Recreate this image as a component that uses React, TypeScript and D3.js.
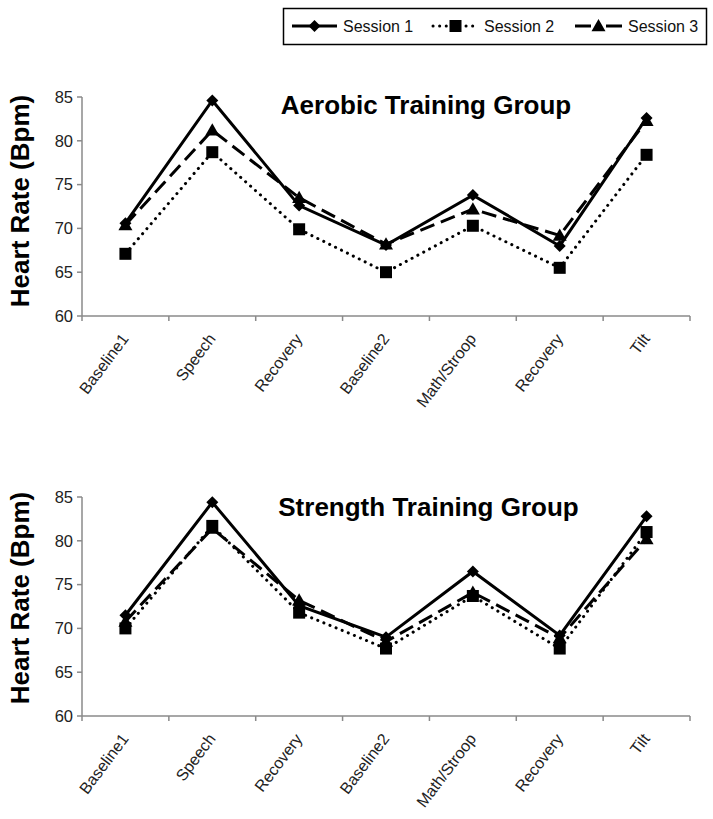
import React from "react";
import * as d3 from "d3";

const categories = ["Baseline1", "Speech", "Recovery", "Baseline2", "Math/Stroop", "Recovery", "Tilt"];
const yTicks = [60, 65, 70, 75, 80, 85];
const seriesNames = ["Session 1", "Session 2", "Session 3"];

const aerobicS1 = [70.6, 84.6, 72.6, 68.1, 73.8, 68.0, 82.6];
const aerobicS2 = [67.1, 78.7, 69.9, 65.0, 70.3, 65.5, 78.4];
const aerobicS3 = [70.4, 81.2, 73.5, 68.2, 72.2, 69.2, 82.3];

const strengthS1 = [71.5, 84.4, 72.6, 69.0, 76.5, 69.2, 82.8];
const strengthS2 = [70.0, 81.7, 71.8, 67.7, 73.7, 67.7, 81.0];
const strengthS3 = [70.8, 81.4, 73.2, 68.5, 74.1, 68.9, 80.2];

const panels = [
  { title: "Aerobic Training Group", series: [aerobicS1, aerobicS2, aerobicS3], top: 97, titleX: 426, titleY: 113.5, labelY: 201 },
  { title: "Strength Training Group", series: [strengthS1, strengthS2, strengthS3], top: 497, titleX: 428.5, titleY: 516, labelY: 598 },
];

const FONT = "'Liberation Sans', Arial, sans-serif";
const styles = [
  { dash: null as string | null, cap: "butt" },
  { dash: "0.1 6.5", cap: "round" },
  { dash: "15 7", cap: "butt" },
];

function Marker({ kind, x, y }: { kind: number; x: number; y: number }) {
  if (kind === 0) {
    const s = 6;
    return <path d={`M${x},${y - s}L${x + s},${y}L${x},${y + s}L${x - s},${y}Z`} fill="#000" />;
  }
  if (kind === 1) {
    const s = 6;
    return <rect x={x - s} y={y - s} width={2 * s} height={2 * s} fill="#000" />;
  }
  const s = 7;
  return <path d={`M${x},${y - s}L${x + s},${y + s * 0.75}L${x - s},${y + s * 0.75}Z`} fill="#000" />;
}

function Panel({ p }: { p: (typeof panels)[number] }) {
  const x0 = 82;
  const x1 = 690;
  const height = 219;
  const y = d3.scaleLinear().domain([60, 85]).range([p.top + height, p.top]);
  const x = d3.scaleBand<number>().domain(d3.range(categories.length)).range([x0, x1]);
  const cx = (i: number) => (x(i) as number) + x.bandwidth() / 2;
  const line = d3
    .line<number>()
    .x((_, i) => cx(i))
    .y((d) => y(d));
  const base = y(60);
  const axisColor = "#8a8a8a";
  return (
    <g>
      <text x={p.titleX} y={p.titleY} textAnchor="middle" fontFamily={FONT} fontWeight="bold" fontSize={26}>
        {p.title}
      </text>
      <text
        transform={`translate(29,${p.labelY}) rotate(-90)`}
        textAnchor="middle"
        fontFamily={FONT}
        fontWeight="bold"
        fontSize={26}
      >
        Heart Rate (Bpm)
      </text>
      <line x1={x0} x2={x0} y1={y(85)} y2={base} stroke={axisColor} strokeWidth={1.5} />
      <line x1={x0} x2={x1} y1={base} y2={base} stroke={axisColor} strokeWidth={1.5} />
      {yTicks.map((t) => (
        <g key={t}>
          <line x1={x0 - 5} x2={x0} y1={y(t)} y2={y(t)} stroke={axisColor} strokeWidth={1.5} />
          <text x={x0 - 9} y={y(t)} dy="0.35em" textAnchor="end" fontFamily={FONT} fontSize={16.5} fill="#222">
            {t}
          </text>
        </g>
      ))}
      {d3.range(categories.length + 1).map((i) => {
        const xx = i === categories.length ? x1 : (x(i) as number);
        return <line key={i} x1={xx} x2={xx} y1={base} y2={base + 5} stroke={axisColor} strokeWidth={1.5} />;
      })}
      {categories.map((c, i) => (
        <text
          key={i}
          transform={`translate(${cx(i) + 4},${base + 23}) rotate(-53)`}
          textAnchor="end"
          fontFamily={FONT}
          fontSize={16}
          fill="#222"
        >
          {c}
        </text>
      ))}
      {p.series.map((s, k) => (
        <path
          key={k}
          d={line(s) || ""}
          fill="none"
          stroke="#000"
          strokeWidth={3}
          strokeDasharray={styles[k].dash || undefined}
          strokeLinecap={styles[k].cap as any}
        />
      ))}
      {p.series.map((s, k) => (
        <g key={k}>
          {s.map((v, i) => (
            <Marker key={i} kind={k} x={cx(i)} y={y(v)} />
          ))}
        </g>
      ))}
    </g>
  );
}

function Legend() {
  const items = [
    { x1: 292, x2: 337, tx: 343 },
    { x1: 433, x2: 478, tx: 484 },
    { x1: 575, x2: 622, tx: 628 },
  ];
  const ly = 26;
  return (
    <g>
      <rect x={283.5} y={8.5} width={423} height={36} fill="#fff" stroke="#000" strokeWidth={1.5} />
      {items.map((it, k) => (
        <g key={k}>
          <line
            x1={it.x1}
            x2={it.x2}
            y1={ly}
            y2={ly}
            stroke="#000"
            strokeWidth={3}
            strokeDasharray={k === 1 ? "0.1 6.5" : k === 2 ? "16 15" : undefined}
            strokeLinecap={k === 1 ? "round" : "butt"}
          />
          <Marker kind={k} x={(it.x1 + it.x2) / 2} y={ly} />
          <text x={it.tx} y={ly} dy="0.35em" fontFamily={FONT} fontSize={16} fill="#111">
            {seriesNames[k]}
          </text>
        </g>
      ))}
    </g>
  );
}

export default function App() {
  return (
    <svg
      width={713}
      height={819}
      style={{ position: "absolute", left: 0, top: 0, background: "#fff" }}
    >
      <rect width={713} height={819} fill="#fff" />
      <Legend />
      {panels.map((p, i) => (
        <Panel key={i} p={p} />
      ))}
    </svg>
  );
}
